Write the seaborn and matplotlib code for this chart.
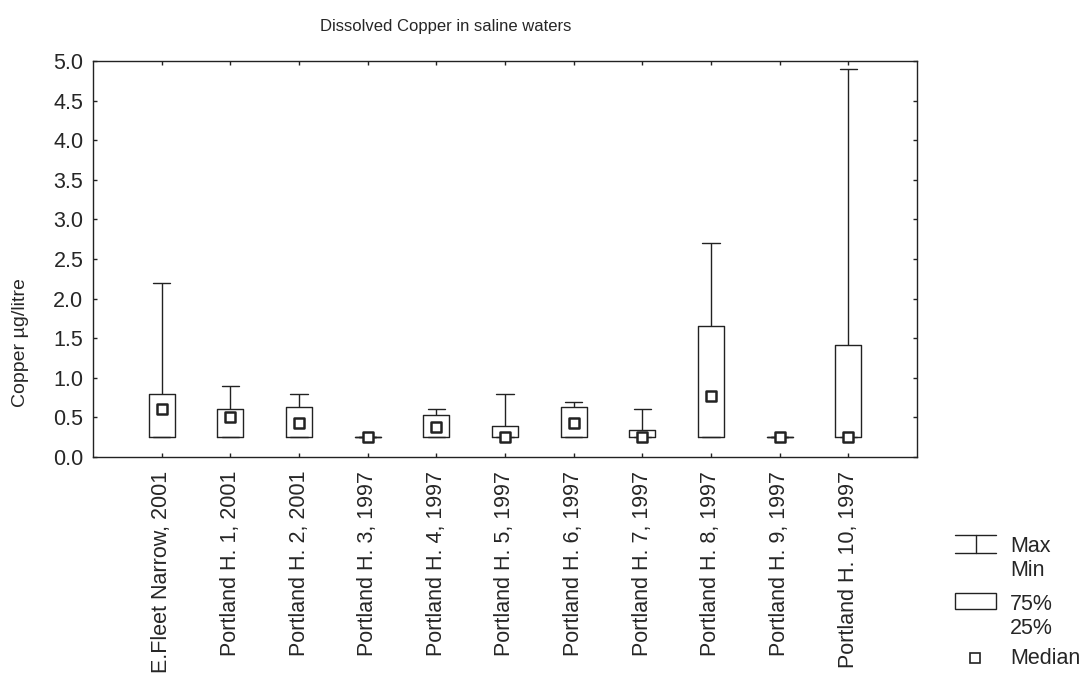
import numpy as np
import pandas as pd
import matplotlib
matplotlib.use('Agg')
import matplotlib.pyplot as plt
import seaborn as sns

sns.set_style('white')
plt.rcParams['font.family'] = ['Liberation Sans', 'DejaVu Sans']

# five-number summaries (µg/litre)
sites = ["E.Fleet Narrow, 2001", "Portland H. 1, 2001", "Portland H. 2, 2001",
         "Portland H. 3, 1997", "Portland H. 4, 1997", "Portland H. 5, 1997",
         "Portland H. 6, 1997", "Portland H. 7, 1997", "Portland H. 8, 1997",
         "Portland H. 9, 1997", "Portland H. 10, 1997"]
cu_min = [0.25, 0.25, 0.25, 0.25, 0.25, 0.25, 0.25, 0.25, 0.25, 0.25, 0.25]
cu_q1 = [0.25, 0.25, 0.25, 0.25, 0.25, 0.25, 0.25, 0.25, 0.25, 0.25, 0.25]
cu_med = [0.60, 0.50, 0.43, 0.25, 0.38, 0.25, 0.43, 0.25, 0.77, 0.25, 0.25]
cu_q3 = [0.80, 0.60, 0.63, 0.25, 0.53, 0.39, 0.63, 0.34, 1.65, 0.25, 1.41]
cu_max = [2.20, 0.90, 0.80, 0.25, 0.60, 0.80, 0.70, 0.60, 2.70, 0.25, 4.90]

rows = []
for i, s in enumerate(sites):
    for v in (cu_min[i], cu_q1[i], cu_med[i], cu_q3[i], cu_max[i]):
        rows.append({'site': s, 'copper': v})
df = pd.DataFrame(rows)

ink = '#222222'
fig = plt.figure(figsize=(10.85, 6.78), dpi=100)
ax = fig.add_axes([93 / 1085, 1 - 457 / 678, 824 / 1085, 396 / 678])

sns.boxplot(data=df, x='site', y='copper', whis=(0, 100), width=0.38,
            fill=False, color=ink, linewidth=1, showfliers=False,
            capwidths=0.25, medianprops={'visible': False}, ax=ax)
sns.stripplot(x=sites, y=cu_med, jitter=False, marker='s', size=7.5,
              color='white', edgecolor=ink, linewidth=1.8, zorder=5, ax=ax)

ax.set_xlim(-1, 11)
ax.set_ylim(0, 5)
ax.set_yticks(np.arange(0, 5.01, 0.5))
ax.set_yticklabels([f'{v:.1f}' for v in np.arange(0, 5.01, 0.5)])
ax.set_xlabel('')
ax.set_ylabel('')
ax.tick_params(axis='y', direction='in', left=True, right=True, length=3,
               width=1, color=ink, labelsize=15.5, pad=7)
ax.tick_params(axis='x', direction='in', bottom=True, top=True, length=3,
               width=1, color=ink, labelsize=15.5, labelrotation=90, pad=10)
for sp in ax.spines.values():
    sp.set_visible(True)
    sp.set_color(ink)
    sp.set_linewidth(1)

fig.text(446 / 1085, 1 - 26 / 678, 'Dissolved Copper in saline waters',
         ha='center', va='center', fontsize=12)
fig.text(21 / 1085, 1 - 343 / 678, 'Copper µg/litre', rotation=90,
         ha='center', va='center', fontsize=14)

# hand-drawn key in the lower right corner
lax = fig.add_axes([0, 0, 1, 1], facecolor='none')
lax.set_xlim(0, 1085)
lax.set_ylim(678, 0)
lax.axis('off')
lax.plot([955, 996], [535, 535], color=ink, lw=1)
lax.plot([955, 996], [553, 553], color=ink, lw=1)
lax.plot([976, 976], [535, 553], color=ink, lw=1)
lax.add_patch(plt.Rectangle((955, 593), 41, 16, fill=False, edgecolor=ink, lw=1))
lax.plot([975], [658], marker='s', ms=7, mfc='white', mec=ink, mew=1.2)
for txt, yy in [('Max', 547), ('Min', 571), ('75%', 605), ('25%', 628), ('Median', 658)]:
    lax.text(1010, yy, txt, ha='left', va='center', fontsize=15.5)

fig.savefig('out.png', dpi=100)
